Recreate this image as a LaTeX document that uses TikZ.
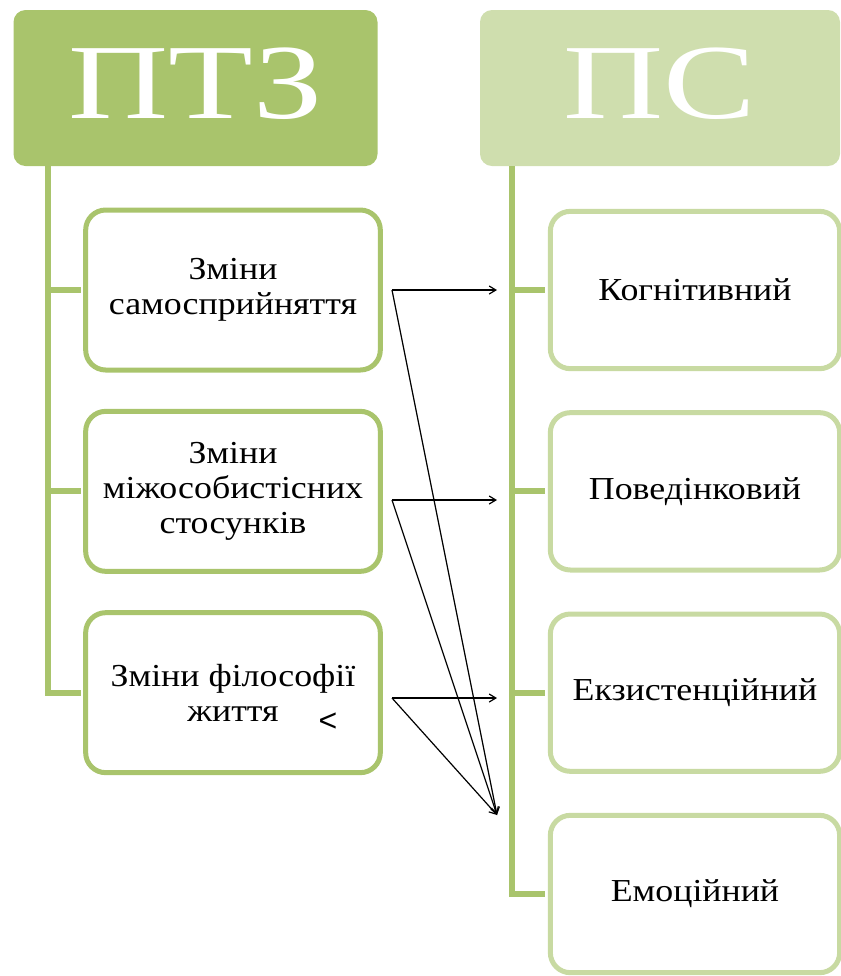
\documentclass[tikz,border=0pt]{standalone}
\usepackage{fontspec}
\setmainfont{Liberation Serif}
\newfontfamily\headfont[FakeStretch=1.3]{Liberation Serif}
\newfontfamily\boxfont[FakeStretch=1.12]{Liberation Serif}
\newfontfamily\signfont{Liberation Sans}
\usetikzlibrary{positioning,arrows.meta}

\definecolor{darkgreen}{HTML}{A9C46C}
\definecolor{lightgreen}{HTML}{CFDEAE}
\definecolor{paleborder}{HTML}{C8DAA2}

\begin{document}
\begin{tikzpicture}[x=0.75pt, y=-0.75pt, node distance=151pt,
                    head node/.style={rounded corners=9pt,minimum width=273pt,minimum height=117pt,
                                      text=white,text depth=7.5pt,font=\headfont\fontsize{80}{80}\selectfont},
                    left node/.style={draw=darkgreen,line width=3.75pt,rounded corners=15pt,fill=white,
                                      minimum width=221pt,minimum height=120pt,align=center,
                                      font=\boxfont\fontsize{24}{26}\selectfont},
                    right node/.style={left node,draw=paleborder,minimum width=217pt,minimum height=118pt},
                    trunk/.style={draw=darkgreen,line width=4.5pt,shorten >=1.8pt},
                    link/.style={-{Straight Barb[length=5pt,width=6pt]},black,line width=0.9pt}]

  \useasboundingbox (0,0) rectangle (841,976);

  % headers
  \node[head node,fill=darkgreen] (ptz) at (195.5,88) {ПТЗ};
  \node[head node,fill=lightgreen,minimum width=270pt] (ps) at (660,88) {ПС};

  % left column
  \node[left node] (z1) at (233,290) {Зміни\\самосприйняття};
  \node[left node] (z2) [below of=z1] {Зміни\\міжособистісних\\стосунків};
  \node[left node] (z3) [below of=z2] {Зміни філософії\\життя};
  \node[font=\signfont\fontsize{24}{24}\selectfont] (sign) at (328,722) {<};

  % right column
  \node[right node] (kog) at (695,290) {Когнітивний};
  \node[right node] (pov) [below of=kog] {Поведінковий};
  \node[right node] (ekz) [below of=pov] {Екзистенційний};
  \node[right node] (emo) [below of=ekz] {Емоційний};

  % trunks
  \coordinate (ltop) at (48,166);
  \coordinate (rtop) at (512,166);
  \draw[trunk] (ltop) |- (z3.west);
  \draw[trunk] (ltop |- z1.west) -- (z1.west);
  \draw[trunk] (ltop |- z2.west) -- (z2.west);
  \draw[trunk] (rtop) |- (emo.west);
  \draw[trunk] (rtop |- kog.west) -- (kog.west);
  \draw[trunk] (rtop |- pov.west) -- (pov.west);
  \draw[trunk] (rtop |- ekz.west) -- (ekz.west);

  % arrows
  \coordinate (s1) at (392,290);
  \coordinate (s2) at (392,500);
  \coordinate (s3) at (392,698);
  \coordinate (t1) at (497,290);
  \coordinate (t2) at (497,500);
  \coordinate (t3) at (497,698);
  \coordinate (hub) at (497,815);
  \draw[link] (s1) -- (t1);
  \draw[link] (s1) -- (hub);
  \draw[link] (s2) -- (t2);
  \draw[link] (s2) -- (hub);
  \draw[link] (s3) -- (t3);
  \draw[link] (s3) -- (hub);

\end{tikzpicture}
\end{document}
